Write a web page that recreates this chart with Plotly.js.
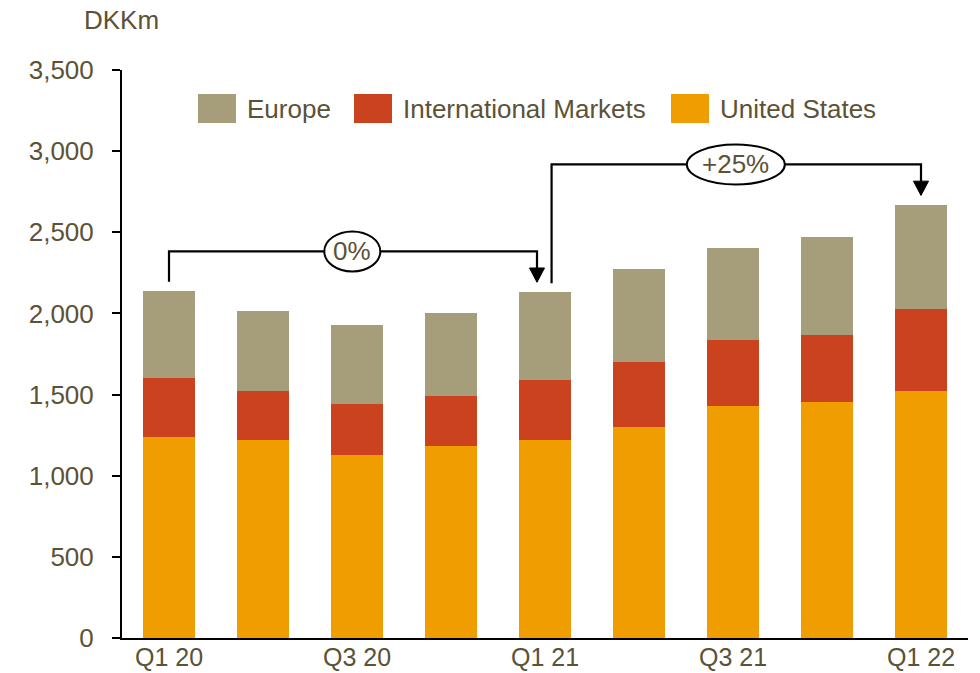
<!DOCTYPE html>
<html>
<head>
<meta charset="utf-8">
<script src="https://cdn.plot.ly/plotly-3.0.1.min.js"></script>
<style>html,body{margin:0;padding:0;background:#fff;}#chart{width:980px;height:673px;}</style>
</head>
<body>
<div id="chart"></div>
<script>
// ---- Data ----
var quarters = ["Q1 20", "Q2 20", "Q3 20", "Q4 20", "Q1 21", "Q2 21", "Q3 21", "Q4 21", "Q1 22"];
var tickLabels = ["Q1 20", "Q3 20", "Q1 21", "Q3 21", "Q1 22"];
var unitedStates = [1237, 1223, 1129, 1184, 1223, 1299, 1427, 1457, 1523];
var internationalMarkets = [364, 300, 312, 306, 368, 403, 410, 413, 503];
var europe = [540, 493, 485, 514, 544, 569, 569, 602, 641];
var seriesNames = ["Europe", "International Markets", "United States"];
var changeLabels = ["0%", "+25%"];

// ---- Styles ----
var TXT = "#5c5236";
var FONT = "Liberation Sans, Arial, sans-serif";
var C_EU = "#a69e7a", C_IM = "#cb421e", C_US = "#ef9d00";

var traces = [
  {type: "bar", name: seriesNames[2], x: quarters, y: unitedStates, marker: {color: C_US}},
  {type: "bar", name: seriesNames[1], x: quarters, y: internationalMarkets, marker: {color: C_IM}},
  {type: "bar", name: seriesNames[0], x: quarters, y: europe, marker: {color: C_EU}}
];

var shapes = [];
var annotations = [];

var W = 980, H = 673, mL = 122, mR = 12, mT = 70, mB = 35;
var pw = W - mL - mR, ph = H - mT - mB;
function px(x) { return (x - mL) / pw; }
function py(y) { return (H - mB - y) / ph; }

// custom legend (paper coords)
var legendItems = [
  {name: seriesNames[0], color: C_EU, x0: 198},
  {name: seriesNames[1], color: C_IM, x0: 354},
  {name: seriesNames[2], color: C_US, x0: 671}
];
legendItems.forEach(function (it) {
  shapes.push({type: "rect", xref: "paper", yref: "paper", x0: px(it.x0), x1: px(it.x0 + 38), y0: py(123), y1: py(94),
    fillcolor: it.color, line: {width: 0}});
  annotations.push({xref: "paper", yref: "paper", x: px(it.x0 + 47), y: py(108.5), xanchor: "left", yanchor: "middle",
    text: it.name, showarrow: false, font: {family: FONT, size: 26, color: TXT}});
});

annotations.push({xref: "paper", yref: "paper", x: px(121.5), y: py(20), xanchor: "center", yanchor: "middle",
  text: "DKKm", showarrow: false, font: {family: FONT, size: 26, color: TXT}});

// x-axis category labels (every other quarter), kept inside the frame
tickLabels.forEach(function (t) {
  annotations.push({xref: "x", yref: "paper", x: t, y: py(672), xanchor: "center", yanchor: "bottom",
    text: t, showarrow: false, borderpad: 0, font: {family: FONT, size: 25, color: TXT}});
});

// brackets (data coords: x = category index, y = value)
var lineStyle = {color: "#000", width: 2.2};
function bracket(xs, ys0, ytop, xe, arrowTip) {
  shapes.push({type: "path", xref: "x", yref: "y",
    path: "M" + xs + "," + ys0 + " L" + xs + "," + ytop + " L" + xe + "," + ytop + " L" + xe + "," + (arrowTip + 80),
    line: lineStyle});
  shapes.push({type: "path", xref: "x", yref: "y",
    path: "M" + (xe - 0.08) + "," + (arrowTip + 88) + " L" + (xe + 0.08) + "," + (arrowTip + 88) + " L" + xe + "," + arrowTip + " Z",
    fillcolor: "#000", line: {color: "#000", width: 1}});
}
bracket(0, 2195, 2382, 3.915, 2192);
bracket(4.07, 2186, 2918, 8, 2727);

function bubble(xc, yc, w, h, label) {
  shapes.push({type: "circle", xref: "x", yref: "y", xsizemode: "pixel", ysizemode: "pixel",
    xanchor: xc, yanchor: yc, x0: -w / 2, x1: w / 2, y0: -h / 2, y1: h / 2,
    fillcolor: "#fff", line: {color: "#000", width: 2}});
  annotations.push({xref: "x", yref: "y", x: xc, y: yc, text: label, showarrow: false,
    xanchor: "center", yanchor: "middle", font: {family: FONT, size: 26, color: TXT}});
}
bubble(1.95, 2382, 56, 40, changeLabels[0]);
bubble(6.03, 2918, 98, 40, changeLabels[1]);

var layout = {
  width: W, height: H,
  margin: {l: mL, r: mR, t: mT, b: mB, pad: 0},
  paper_bgcolor: "#fff", plot_bgcolor: "#fff",
  barmode: "stack", bargap: 0.45,
  showlegend: false,
  font: {family: FONT, size: 26, color: TXT},
  xaxis: {
    type: "category", categoryorder: "array", categoryarray: quarters,
    range: [-0.5, 8.5],
    showticklabels: false,
    ticks: "", ticklen: 0, showline: true, linecolor: "#000", linewidth: 2,
    showgrid: false, zeroline: false, fixedrange: true
  },
  yaxis: {
    range: [0, 3500], dtick: 500, tick0: 0,
    tickformat: ",d",
    ticks: "outside", ticklen: 8, tickwidth: 2, tickcolor: "#000",
    showline: true, linecolor: "#000", linewidth: 2,
    showgrid: false, zeroline: false, fixedrange: true,
    ticklabelstandoff: 13,
    tickfont: {family: FONT, size: 26, color: TXT}
  },
  shapes: shapes,
  annotations: annotations
};

Plotly.newPlot("chart", traces, layout, {staticPlot: true, displayModeBar: false});
</script>
</body>
</html>
